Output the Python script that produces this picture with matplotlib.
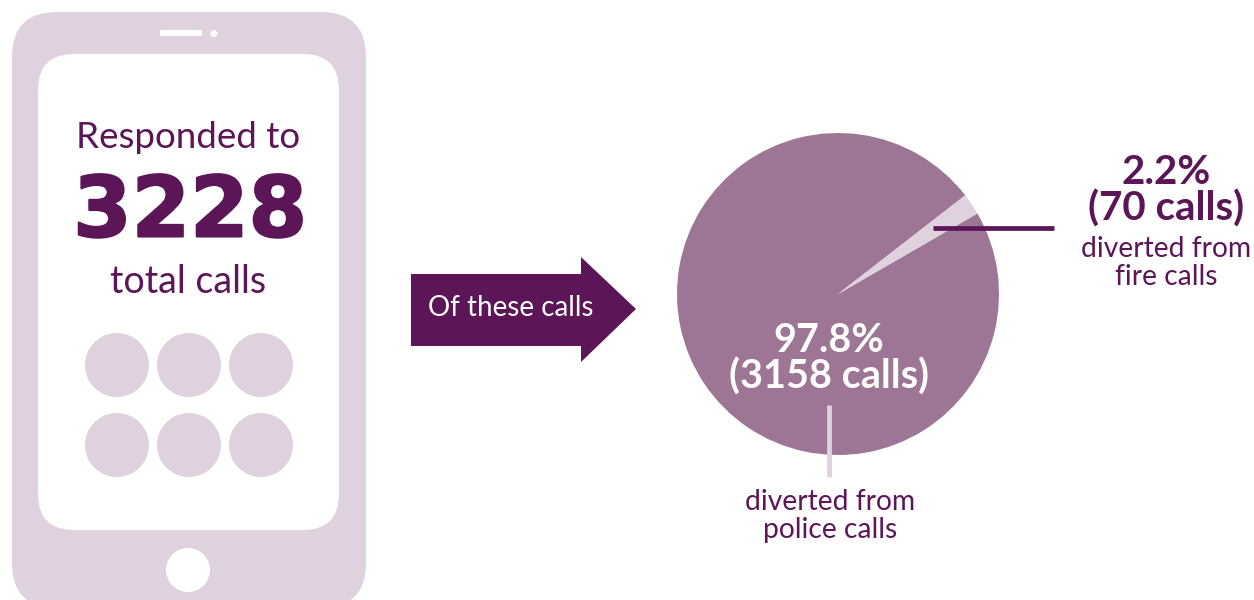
import matplotlib
matplotlib.use("Agg")
import matplotlib.pyplot as plt
import matplotlib.patheffects as pe
from matplotlib.patches import Circle, FancyBboxPatch, Polygon

DARK = "#5c1657"
MID = "#9e7695"
LIGHT = "#dfd1dd"

total_calls = 3228
pie_labels = ["police", "fire"]
pie_calls = [3158, 70]
pie_pct = [97.8, 2.2]

plt.rcParams["font.family"] = ["Lato", "DejaVu Sans"]

fig = plt.figure(figsize=(12.54, 6.0), dpi=100)
ax = fig.add_axes([0, 0, 1, 1])

# pie first, since it resets the axes; y is flipped below so the slices run clockwise on screen
ax.pie(pie_calls, colors=[MID, LIGHT], startangle=-30, center=(838, 294), radius=161,
       frame=True, wedgeprops={"linewidth": 0})
ax.set_aspect("auto")
ax.set_xlim(0, 1254)
ax.set_ylim(600, 0)
ax.axis("off")

# phone body, runs off the bottom edge
ax.add_patch(FancyBboxPatch((12, 12), 354, 596, boxstyle="round,pad=0,rounding_size=45",
                            fc=LIGHT, ec="none", zorder=1))
ax.add_patch(FancyBboxPatch((38, 54), 301, 476, boxstyle="round,pad=0,rounding_size=36",
                            fc="white", ec="none", zorder=2))
ax.add_patch(FancyBboxPatch((160, 30), 42, 6, boxstyle="round,pad=0,rounding_size=1",
                            fc="white", ec="none", zorder=2))
ax.add_patch(Circle((214, 33.5), 3.5, fc="white", ec="none", zorder=2))
ax.add_patch(Circle((188, 570), 22, fc="white", ec="none", zorder=2))
for cy in [365, 445]:
    for cx in [117, 189, 261]:
        ax.add_patch(Circle((cx, cy), 32, fc=LIGHT, ec="none", zorder=3))

ax.text(188, 137, "Responded to", color=DARK, fontsize=26.5, ha="center", va="center", zorder=4)
big = ax.text(190, 213, str(total_calls), color=DARK, fontsize=60.5, fontweight="bold",
              family="DejaVu Sans", ha="center", va="center", zorder=4)
big.set_path_effects([pe.withStroke(linewidth=1.5, foreground=DARK)])
ax.text(188, 282, "total calls", color=DARK, fontsize=27, ha="center", va="center", zorder=4)

# arrow
ax.add_patch(Polygon([(411, 274), (581, 274), (581, 257), (636, 309), (581, 362), (581, 346), (411, 346)],
                     closed=True, fc=DARK, ec="none"))
ax.text(511, 308, "Of these calls", color="white", fontsize=20, ha="center", va="center")

ax.plot([933, 1054], [228, 228], color=DARK, lw=3.4, solid_capstyle="butt")
ax.plot([829, 829], [405, 477], color=LIGHT, lw=3.5, solid_capstyle="butt")

ax.text(829, 340, f"{pie_pct[0]}%", color="white", fontsize=28.5, fontweight="bold", ha="center", va="center")
ax.text(829, 377, f"({pie_calls[0]} calls)", color="white", fontsize=28.5, fontweight="bold", ha="center", va="center")
ax.text(830, 502, "diverted from", color=DARK, fontsize=20.3, ha="center", va="center")
ax.text(830, 530, "police calls", color=DARK, fontsize=20.3, ha="center", va="center")
ax.text(1166, 172, f"{pie_pct[1]}%", color=DARK, fontsize=29, fontweight="bold", ha="center", va="center")
ax.text(1166, 209, f"({pie_calls[1]} calls)", color=DARK, fontsize=29, fontweight="bold", ha="center", va="center")
ax.text(1166, 249, "diverted from", color=DARK, fontsize=20.3, ha="center", va="center")
ax.text(1166, 277, "fire calls", color=DARK, fontsize=20.3, ha="center", va="center")

fig.savefig("out.png", dpi=100)
